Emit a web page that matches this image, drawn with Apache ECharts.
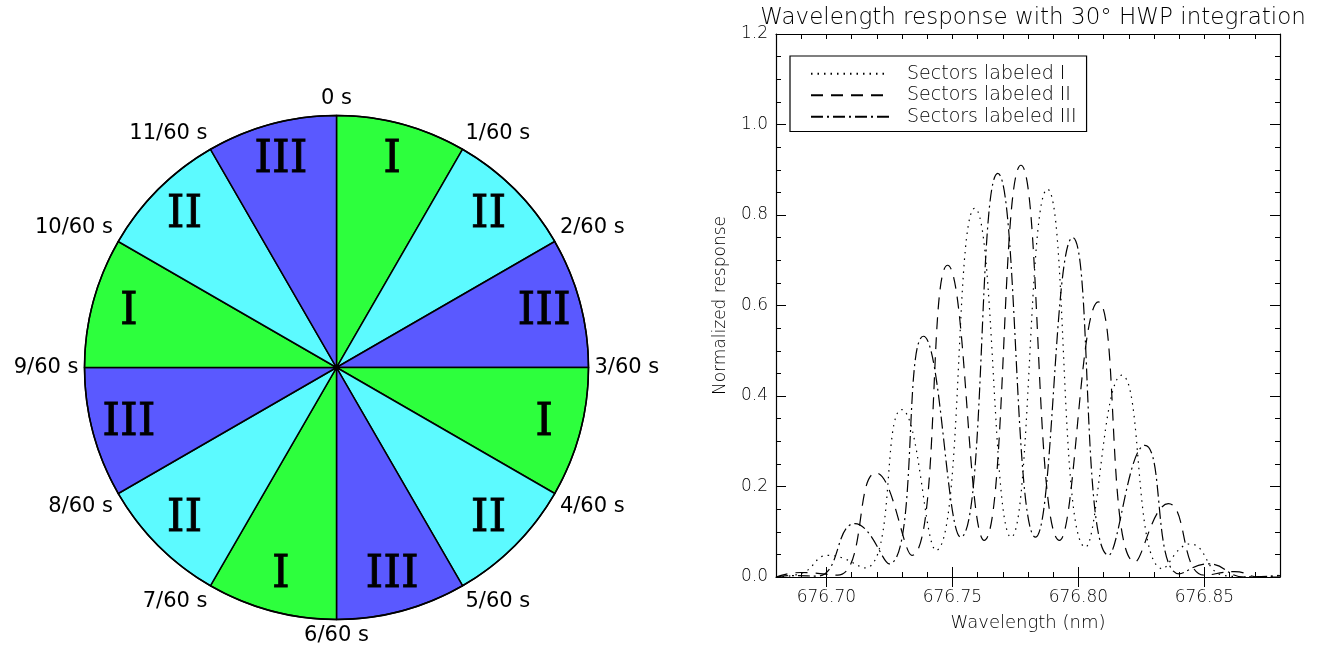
<!DOCTYPE html>
<html>
<head>
<meta charset="utf-8">
<script src="https://cdn.jsdelivr.net/npm/echarts@6/dist/echarts.min.js"></script>
<style>
  html, body { margin: 0; padding: 0; background: #fff; }
  #chart { width: 1320px; height: 656px; }
</style>
</head>
<body>
<div id="chart"></div>
<script>
// Half-wave-plate rotation sectors (clockwise from the top)
const sectorLabels = ['I', 'II', 'III', 'I', 'II', 'III', 'I', 'II', 'III', 'I', 'II', 'III'];
const timeLabels = ['0 s', '1/60 s', '2/60 s', '3/60 s', '4/60 s', '5/60 s',
                    '6/60 s', '7/60 s', '8/60 s', '9/60 s', '10/60 s', '11/60 s'];
const sectorColors = { I: '#2dff3d', II: '#5cfaff', III: '#5a59ff' };

// Wavelength response curves (nm, normalized response)
const waveI = [676.680, 676.690, 676.7008, 676.7154, 676.7299, 676.7435, 676.7589, 676.7733,
               676.7877, 676.8028, 676.8172, 676.8335, 676.8443, 676.858, 676.870, 676.880];
const respI = [0.000, 0.008, 0.048, 0.020, 0.370, 0.059, 0.815, 0.088,
               0.857, 0.066, 0.446, 0.018, 0.073, 0.003, 0.000, 0.004];

const waveII = [676.680, 676.690, 676.7045, 676.7197, 676.7339, 676.7481, 676.7626, 676.7772,
                676.7925, 676.8079, 676.8225, 676.8357, 676.850, 676.862, 676.872, 676.880];
const respII = [0.000, 0.010, 0.004, 0.230, 0.048, 0.689, 0.081, 0.910,
                0.081, 0.608, 0.033, 0.162, 0.004, 0.012, 0.000, 0.000];

const waveIII = [676.680, 676.685, 676.6965, 676.7113, 676.7249, 676.7385, 676.7533, 676.768,
                 676.783, 676.7977, 676.812, 676.8264, 676.840, 676.8515, 676.866, 676.880];
const respIII = [0.000, 0.003, 0.002, 0.118, 0.029, 0.532, 0.088, 0.892,
                 0.088, 0.750, 0.048, 0.291, 0.007, 0.029, 0.000, 0.003];

const xMajorTicks = [676.70, 676.75, 676.80, 676.85];
const seriesNames = ['Sectors labeled I', 'Sectors labeled II', 'Sectors labeled III'];

const zip = (xs, ys) => xs.map((x, i) => [x, ys[i]]);

const sansFont = 'DejaVu Sans';
const thinText = { fontFamily: sansFont, fontWeight: 200, color: '#000' };
const pieCenter = [336.5, 367.5];
const pieRadius = 252;

const xRange = { min: 676.68, max: 676.88 };

function lineSeries(name, data, dash) {
  return {
    name: name,
    type: 'line',
    xAxisIndex: 0,
    yAxisIndex: 0,
    data: data,
    smooth: 0.5,
    symbol: 'none',
    silent: true,
    lineStyle: { color: '#000', width: 1.2, type: dash },
    itemStyle: { color: '#000' }
  };
}

const chart = echarts.init(document.getElementById('chart'), null, { renderer: 'canvas' });

chart.setOption({
  animation: false,
  backgroundColor: '#fff',
  title: {
    text: 'Wavelength response with 30\u00b0 HWP integration',
    left: 1028,
    top: 2,
    textAlign: 'center',
    textStyle: { ...thinText, fontSize: 23 }
  },
  legend: {
    orient: 'vertical',
    left: 790,
    top: 56,
    padding: [7, 10, 4, 20],
    itemWidth: 78,
    itemHeight: 14,
    itemGap: 0,
    borderColor: '#000',
    borderWidth: 1.2,
    selectedMode: false,
    data: seriesNames,
    itemStyle: { opacity: 0 },
    textStyle: { ...thinText, fontSize: 19, lineHeight: 21.5, padding: [0, 0, 0, 13] }
  },
  polar: { center: pieCenter, radius: pieRadius },
  angleAxis: {
    type: 'value',
    min: 0,
    max: 12,
    interval: 1,
    startAngle: 90,
    clockwise: true,
    z: 5,
    axisLine: { show: true, lineStyle: { color: '#000', width: 1.5 } },
    axisTick: { show: false },
    splitLine: { show: false },
    axisLabel: {
      margin: 6,
      fontFamily: sansFont,
      fontSize: 21,
      color: '#000',
      formatter: v => (v < timeLabels.length ? timeLabels[v] : '')
    }
  },
  radiusAxis: { show: false, min: 0, max: 1 },
  grid: { left: 776, top: 34, width: 504, height: 543, containLabel: false },
  xAxis: [
    {
      type: 'value', position: 'bottom', ...xRange, interval: 0.01,
      name: 'Wavelength (nm)', nameLocation: 'middle', nameGap: 37,
      nameTextStyle: { ...thinText, fontSize: 18 },
      axisLine: { show: true, onZero: false, lineStyle: { color: '#000', width: 1.2 } },
      axisTick: { show: true, inside: true, length: 5, lineStyle: { color: '#000' } },
      axisLabel: {
        customValues: xMajorTicks, margin: 12,
        ...thinText, fontSize: 17,
        formatter: v => v.toFixed(2)
      },
      splitLine: { show: false }
    },
    {
      type: 'value', position: 'bottom', ...xRange,
      axisLine: { show: false },
      axisTick: { show: true, inside: true, length: 10, customValues: xMajorTicks, lineStyle: { color: '#000' } },
      axisLabel: { show: false },
      splitLine: { show: false }
    },
    {
      type: 'value', position: 'top', ...xRange, interval: 0.01,
      axisLine: { show: true, onZero: false, lineStyle: { color: '#000', width: 1.2 } },
      axisTick: { show: true, inside: true, length: 5, lineStyle: { color: '#000' } },
      axisLabel: { show: false },
      splitLine: { show: false }
    },
    {
      type: 'value', position: 'top', ...xRange,
      axisLine: { show: false },
      axisTick: { show: true, inside: true, length: 10, customValues: xMajorTicks, lineStyle: { color: '#000' } },
      axisLabel: { show: false },
      splitLine: { show: false }
    }
  ],
  yAxis: [
    {
      type: 'value', position: 'left', min: 0, max: 1.2, interval: 0.2,
      name: 'Normalized response', nameLocation: 'middle', nameGap: 47, nameRotate: 90,
      nameTextStyle: { ...thinText, fontSize: 17 },
      axisLine: { show: true, onZero: false, lineStyle: { color: '#000', width: 1.2 } },
      axisTick: { show: true, inside: true, length: 10, lineStyle: { color: '#000' } },
      minorTick: { show: true, splitNumber: 4, length: 5, lineStyle: { color: '#000' } },
      axisLabel: { margin: 8, ...thinText, fontSize: 17, formatter: v => v.toFixed(1) },
      splitLine: { show: false },
      minorSplitLine: { show: false }
    },
    {
      type: 'value', position: 'right', min: 0, max: 1.2, interval: 0.2,
      axisLine: { show: true, onZero: false, lineStyle: { color: '#000', width: 1.2 } },
      axisTick: { show: true, inside: true, length: 10, lineStyle: { color: '#000' } },
      minorTick: { show: true, splitNumber: 4, length: 5, lineStyle: { color: '#000' } },
      axisLabel: { show: false },
      splitLine: { show: false },
      minorSplitLine: { show: false }
    }
  ],
  series: [
    // coloured half-wave-plate sectors
    {
      type: 'pie',
      center: pieCenter,
      radius: pieRadius,
      startAngle: 90,
      clockwise: true,
      silent: true,
      label: { show: false },
      labelLine: { show: false },
      itemStyle: { borderColor: '#000', borderWidth: 1.5 },
      data: sectorLabels.map((s, i) => ({ name: 'sector' + i, value: 1, itemStyle: { color: sectorColors[s] } }))
    },
    // Roman numeral sector labels
    {
      type: 'pie',
      center: pieCenter,
      radius: [172, pieRadius],
      startAngle: 90,
      clockwise: true,
      silent: true,
      z: 3,
      itemStyle: { color: 'rgba(0,0,0,0)', borderWidth: 0 },
      label: {
        show: true,
        position: 'inside',
        fontFamily: 'DejaVu Serif',
        fontSize: 45,
        color: '#000',
        textBorderColor: '#000',
        textBorderWidth: 0.8,
        formatter: p => p.data.label
      },
      labelLine: { show: false },
      data: sectorLabels.map((s, i) => ({ name: 'label' + i, value: 1, label: s }))
    },
    lineSeries(seriesNames[0], zip(waveI, respI), [1.5, 5]),
    lineSeries(seriesNames[1], zip(waveII, respII), [12, 8]),
    lineSeries(seriesNames[2], zip(waveIII, respIII), [12, 4, 2, 4])
  ]
});
</script>
</body>
</html>
